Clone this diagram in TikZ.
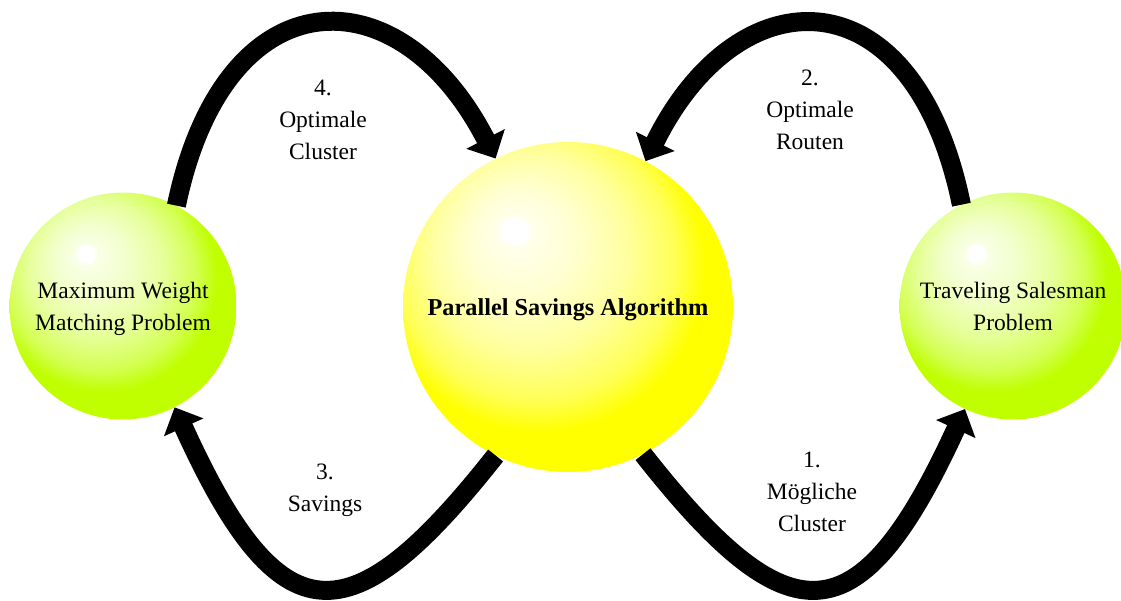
\documentclass[tikz,border=0pt]{standalone}
\usepackage{fontspec}
\setmainfont{Liberation Serif}
\usetikzlibrary{arrows.meta}
\definecolor{limeball}{RGB}{191,255,0}
\definecolor{sunball}{RGB}{255,255,0}
\pgfdeclareradialshading{limeshade}{\pgfpoint{-8.5bp}{12bp}}{color(0bp)=(white); color(1.8bp)=(white); color(2.6bp)=(limeball!10); color(8bp)=(limeball!20); color(15bp)=(limeball!40); color(21bp)=(limeball!68); color(24bp)=(limeball!92); color(25bp)=(limeball); color(50bp)=(limeball)}
\pgfdeclareradialshading{sunshade}{\pgfpoint{-8.5bp}{12bp}}{color(0bp)=(white); color(1.8bp)=(white); color(2.6bp)=(sunball!8); color(8bp)=(sunball!18); color(15bp)=(sunball!38); color(21bp)=(sunball!66); color(24bp)=(sunball!92); color(25bp)=(sunball); color(50bp)=(sunball)}
\begin{document}
\begin{tikzpicture}[x=1pt,y=-1pt,
   every node/.style={font=\fontsize{23.5}{32}\selectfont, align=center},
   ball/.style={circle, inner sep=0pt, text depth=0pt},
   flow/.style={line width=19pt, -{Triangle[length=22pt,width=42pt]}}]
   \useasboundingbox (0,0) rectangle (1121,601);
   % the three balls
   \node[ball, minimum size=227pt, shading=limeshade] (mwm) at (123,306) {Maximum Weight\\Matching Problem};
   \node[ball, minimum size=330pt, shading=sunshade, font=\fontsize{24.3}{32}\selectfont\bfseries] (psa) at (568,307) {Parallel Savings Algorithm};
   \node[ball, minimum size=227pt, shading=limeshade] (tsp) at (1013,306) {Traveling Salesman\\Problem};
   % steps
   \draw[flow] (psa.297) .. controls (789,640) and (859,640) .. (tsp.245);
   \draw[flow] (tsp.117) .. controls (914,-28) and (739,-28) .. (psa.62);
   \draw[flow] (psa.244) .. controls (350,640) and (280,640) .. (mwm.297);
   \draw[flow] (mwm.62) .. controls (225,-28) and (400,-28) .. (psa.116);
   \node (s1) at (812,492) {1.\\Mögliche\\Cluster};
   \node (s2) at (810,110) {2.\\Optimale\\Routen};
   \node (s3) at (325,490) {3.\\Savings};
   \node (s4) at (323,120) {4.\\Optimale\\Cluster};
\end{tikzpicture}
\end{document}
